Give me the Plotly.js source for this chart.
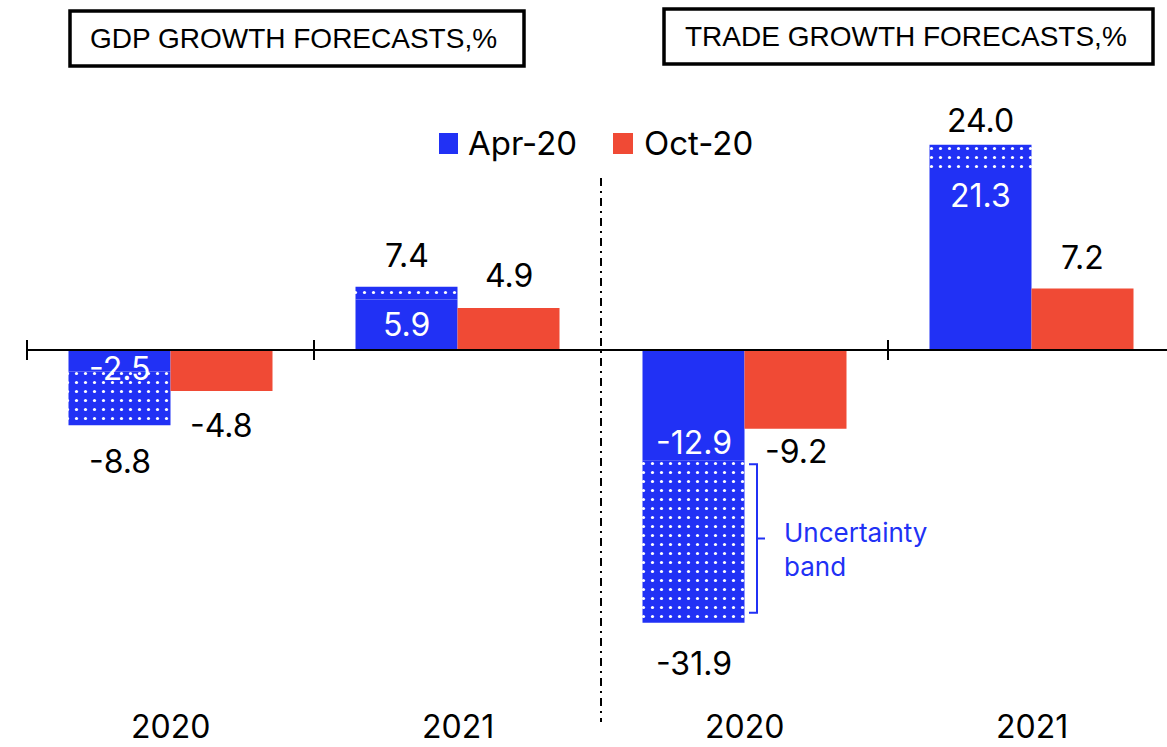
<!DOCTYPE html>
<html>
<head>
<meta charset="utf-8">
<script src="https://cdn.plot.ly/plotly-3.0.1.min.js"></script>
<style>html,body{margin:0;padding:0;background:#fff;}#chart{width:1167px;height:747px;}</style>
</head>
<body>
<div id="chart"></div>
<script>
// ---- data ----
const categories = ['2020', '2021', '2020', '2021'];
const panelTitles = ['GDP GROWTH FORECASTS,%', 'TRADE GROWTH FORECASTS,%'];
const seriesNames = ['Apr-20', 'Oct-20'];
const aprForecast = [-2.5, 5.9, -12.9, 21.3];   // Apr-20 central forecast (solid)
const aprBandEnd  = [-8.8, 7.4, -31.9, 24.0];   // Apr-20 end of uncertainty band
const octForecast = [-4.8, 4.9, -9.2, 7.2];     // Oct-20 forecast
const bandLabel = 'Uncertainty<br>band';

// ---- styles ----
const BLUE = '#2131F5', RED = '#F04A35';
const W = 1167, H = 747;
const catPx = 287;             // px per category
const zeroPx = 350;            // zero line pixel row
const pxPerUnit = 8.55;
const xStart = -0.5 - 27 / catPx;
const xEnd = xStart + W / catPx;
const yTop = zeroPx / pxPerUnit;
const yBot = -(H - zeroPx) / pxPerUnit;
const bw = 102 / catPx;
const numFont = 'Inter, "Noto Sans", sans-serif';
const titleFont = '"Liberation Sans", Arial, sans-serif';

const xIdx = categories.map((c, i) => i);
const px = v => v / W, py = v => 1 - v / H;

const traces = [
  { type: 'bar', x: xIdx, y: aprForecast, width: bw, offset: -bw, name: seriesNames[0],
    marker: { color: BLUE, line: { width: 0 } }, hoverinfo: 'skip' },
  { type: 'bar', x: xIdx, base: aprForecast, y: aprBandEnd.map((v, i) => v - aprForecast[i]),
    width: bw, offset: -bw, name: 'band', showlegend: false,
    marker: { color: BLUE, line: { width: 0 },
      pattern: { shape: '.', fgcolor: '#ffffff', bgcolor: BLUE, size: 9, solidity: 0.1, fillmode: 'replace' } },
    hoverinfo: 'skip' },
  { type: 'bar', x: xIdx, y: octForecast, width: bw, offset: 0, name: seriesNames[1],
    marker: { color: RED, line: { width: 0 } }, hoverinfo: 'skip' }
];

// label pixel offsets (style)
const innerShift = [3, -25, 18, -28];
const bandShift = [-36, 31, -41, 24];
const octShift = [-34, 33, -23, 31];

const ann = [];
xIdx.forEach(i => {
  ann.push({ x: i - bw / 2, y: aprForecast[i], yshift: innerShift[i], text: aprForecast[i].toFixed(1),
    font: { family: numFont, size: 32, color: '#ffffff' } });
  ann.push({ x: i - bw / 2, y: aprBandEnd[i], yshift: bandShift[i], text: aprBandEnd[i].toFixed(1),
    font: { family: numFont, size: 32, color: '#000' } });
  ann.push({ x: i + bw / 2, y: octForecast[i], yshift: octShift[i], text: octForecast[i].toFixed(1),
    font: { family: numFont, size: 32, color: '#000' } });
  ann.push({ x: i, xref: 'x', y: py(726), yref: 'paper', text: categories[i],
    font: { family: numFont, size: 32, color: '#000' } });
});
ann.forEach(a => { a.showarrow = false; a.xanchor = a.xanchor || 'center'; a.yanchor = 'middle';
  a.xref = a.xref || 'x'; a.yref = a.yref || 'y'; });

// panel titles
ann.push({ xref: 'paper', yref: 'paper', x: px(88), y: py(39), xanchor: 'left', yanchor: 'middle',
  showarrow: false, text: panelTitles[0], font: { family: titleFont, size: 28, color: '#000' } });
ann.push({ xref: 'paper', yref: 'paper', x: px(683), y: py(37), xanchor: 'left', yanchor: 'middle',
  showarrow: false, text: panelTitles[1], font: { family: titleFont, size: 28, color: '#000' } });
// legend text
ann.push({ xref: 'paper', yref: 'paper', x: px(466), y: py(143), xanchor: 'left', yanchor: 'middle',
  showarrow: false, text: seriesNames[0], font: { family: numFont, size: 33, color: '#000' } });
ann.push({ xref: 'paper', yref: 'paper', x: px(642), y: py(143), xanchor: 'left', yanchor: 'middle',
  showarrow: false, text: seriesNames[1], font: { family: numFont, size: 33, color: '#000' } });

// uncertainty bracket
const bTop = aprForecast[2] - 4 / pxPerUnit;
const bBot = aprBandEnd[2] + 10 / pxPerUnit;
const bMid = (bTop + bBot) / 2;
ann.push({ xref: 'x', yref: 'y', x: 2, xshift: 37, y: bMid, yshift: -11, xanchor: 'left', yanchor: 'middle',
  align: 'left', showarrow: false, text: bandLabel, font: { family: numFont, size: 26, color: BLUE } });

const shapes = [
  // zero line
  { type: 'line', xref: 'x', yref: 'y', x0: -0.5, x1: xEnd, y0: 0, y1: 0, line: { color: '#000', width: 2 }, layer: 'above' },
  // divider dash-dot
  { type: 'line', xref: 'x', yref: 'paper', x0: 1.5, x1: 1.5, y0: py(178), y1: py(722),
    line: { color: '#000', width: 2, dash: '8px,5px,2px,5px' } },
  // bracket
  { type: 'path', xref: 'x', yref: 'y', xsizemode: 'pixel', xanchor: 2,
    path: `M4.5,${bTop} L12.5,${bTop} L12.5,${bBot} L4.5,${bBot} M12.5,${bMid} L20.5,${bMid}`,
    line: { color: BLUE, width: 2 } },
  // title boxes
  { type: 'rect', xref: 'paper', yref: 'paper', x0: px(70), x1: px(524), y0: py(11), y1: py(66),
    line: { color: '#000', width: 3.5 } },
  { type: 'rect', xref: 'paper', yref: 'paper', x0: px(664), x1: px(1153), y0: py(9), y1: py(64),
    line: { color: '#000', width: 3.5 } },
  // legend squares
  { type: 'rect', xref: 'paper', yref: 'paper', x0: px(439), x1: px(458), y0: py(133), y1: py(154),
    fillcolor: BLUE, line: { width: 0 } },
  { type: 'rect', xref: 'paper', yref: 'paper', x0: px(613), x1: px(633), y0: py(133), y1: py(154),
    fillcolor: RED, line: { width: 0 } }
];
[-0.5, 0.5, 2.5].forEach(t => shapes.push({ type: 'line', xref: 'x', yref: 'y', ysizemode: 'pixel', yanchor: 0,
  x0: t, x1: t, y0: -10, y1: 10, line: { color: '#000', width: 2 } }));

const layout = {
  width: W, height: H,
  margin: { l: 0, r: 0, t: 0, b: 0, pad: 0 },
  paper_bgcolor: '#fff', plot_bgcolor: '#fff',
  barmode: 'overlay',
  showlegend: false,
  xaxis: { range: [xStart, xEnd], visible: false, fixedrange: true },
  yaxis: { range: [yBot, yTop], visible: false, fixedrange: true },
  annotations: ann,
  shapes: shapes
};

Plotly.newPlot('chart', traces, layout, { displayModeBar: false, staticPlot: true });
</script>
</body>
</html>
